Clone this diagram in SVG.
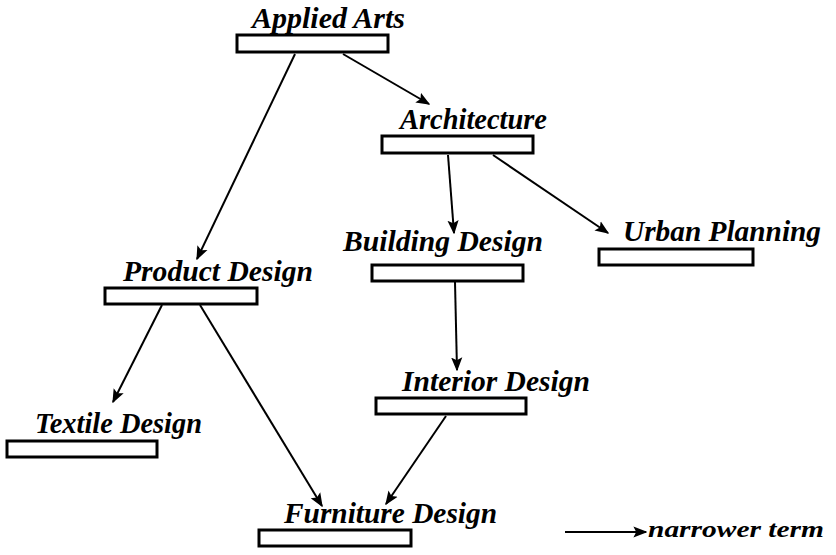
<svg xmlns="http://www.w3.org/2000/svg" width="836" height="555" viewBox="0 0 836 555">
<style>
.box{fill:#fff;stroke:#000;stroke-width:3}
.lbl{font-family:"Liberation Serif","Times New Roman",serif;font-style:italic;font-weight:bold;font-size:29px;fill:#000}
.leg{font-family:"Liberation Serif","Times New Roman",serif;font-style:italic;font-weight:bold;font-size:24px;fill:#000}
.edge{stroke:#000;stroke-width:2;fill:none;marker-end:url(#arr)}
</style>
<defs>
<marker id="arr" viewBox="0 0 10 10" refX="9" refY="5" markerWidth="7" markerHeight="7" orient="auto" markerUnits="strokeWidth">
<path d="M0,1 L10,5 L0,9 L2,5 Z" fill="#000"/>
</marker>
</defs>
<rect width="836" height="555" fill="#fff"/>
<g id="connectors">
<line class="edge" x1="295" y1="54" x2="197" y2="259"/>
<line class="edge" x1="343" y1="54" x2="429" y2="104"/>
<line class="edge" x1="448" y1="155" x2="454" y2="233"/>
<line class="edge" x1="493" y1="155" x2="608" y2="233"/>
<line class="edge" x1="455" y1="282" x2="457" y2="370"/>
<line class="edge" x1="162" y1="305" x2="113" y2="402"/>
<line class="edge" x1="200" y1="305" x2="322" y2="506"/>
<line class="edge" x1="446" y1="416" x2="386" y2="504"/>
</g>
<g id="applied-arts">
<rect class="box" x="237" y="35" width="151" height="17"/>
<text class="lbl" x="252" y="28" textLength="153" lengthAdjust="spacingAndGlyphs">Applied Arts</text>
</g>
<g id="architecture">
<rect class="box" x="382" y="136" width="151" height="17"/>
<text class="lbl" x="400" y="129" textLength="147" lengthAdjust="spacingAndGlyphs">Architecture</text>
</g>
<g id="product-design">
<rect class="box" x="105" y="288" width="152" height="16"/>
<text class="lbl" x="123" y="281" textLength="190" lengthAdjust="spacingAndGlyphs">Product Design</text>
</g>
<g id="building-design">
<rect class="box" x="372" y="265" width="151" height="16"/>
<text class="lbl" x="343" y="251" textLength="200" lengthAdjust="spacingAndGlyphs">Building Design</text>
</g>
<g id="urban-planning">
<rect class="box" x="599" y="249" width="154" height="16"/>
<text class="lbl" x="623" y="241" textLength="198" lengthAdjust="spacingAndGlyphs">Urban Planning</text>
</g>
<g id="interior-design">
<rect class="box" x="376" y="398" width="150" height="16"/>
<text class="lbl" x="402" y="391" textLength="188" lengthAdjust="spacingAndGlyphs">Interior Design</text>
</g>
<g id="textile-design">
<rect class="box" x="7" y="441" width="150" height="16"/>
<text class="lbl" x="35" y="433" textLength="167" lengthAdjust="spacingAndGlyphs">Textile Design</text>
</g>
<g id="furniture-design">
<rect class="box" x="259" y="530" width="152" height="16"/>
<text class="lbl" x="284" y="523" textLength="213" lengthAdjust="spacingAndGlyphs">Furniture Design</text>
</g>
<g id="legend">
<line class="edge" x1="565" y1="532" x2="646" y2="532"/>
<text class="leg" x="648" y="537" textLength="176" lengthAdjust="spacingAndGlyphs">narrower term</text>
</g>
</svg>
